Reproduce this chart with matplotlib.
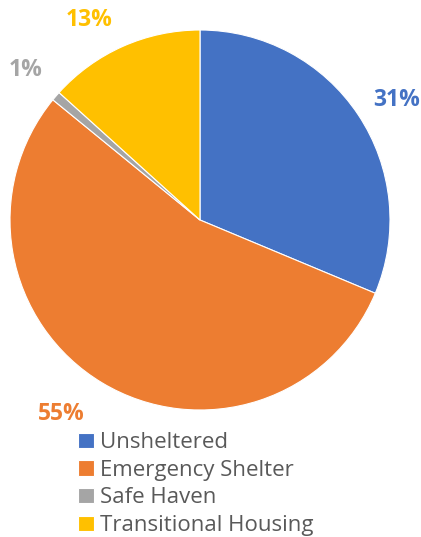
import matplotlib
matplotlib.use("Agg")
import matplotlib.pyplot as plt
from matplotlib import transforms

labels = ["Unsheltered", "Emergency Shelter", "Safe Haven", "Transitional Housing"]
shares = [31.3, 54.6, 0.8, 13.3]
colors = ["#4472C4", "#ED7D31", "#A5A5A5", "#FFC000"]
# small nudges (px) so the labels sit where Excel put them
nudges = [(5, -7), (-20, 3), (0, 0), (-18, -10)]

plt.rcParams['font.family'] = ['Open Sans', 'DejaVu Sans']

W, H = 421, 537
fig = plt.figure(figsize=(W / 100, H / 100), dpi=100)
# pie centre (200, 220) px, radius 190 px
ax = fig.add_axes([10 / W, 1 - 410 / H, 380 / W, 380 / H])

wedges, texts, autotexts = ax.pie(
    shares, colors=colors, startangle=90, counterclock=False,
    autopct=lambda p: f"{p:.0f}%", pctdistance=1.21,
    wedgeprops=dict(edgecolor="white", linewidth=0.8),
    textprops=dict(fontsize=16.5, fontweight="bold"),
)
for t, c, (dx, dy) in zip(autotexts, colors, nudges):
    t.set_color(c)
    t.set_transform(transforms.offset_copy(ax.transData, fig=fig,
                                           x=dx, y=dy, units="dots"))
ax.set_aspect("equal")
ax.set_xlim(-1, 1)
ax.set_ylim(-1, 1)

leg = fig.legend(wedges, labels, loc="upper left",
                 bbox_to_anchor=(67 / W, 1 - 421 / H), frameon=False,
                 fontsize=16, handlelength=0.7, handleheight=0.7,
                 handletextpad=0.3, labelspacing=0.3, borderpad=0)
for t in leg.get_texts():
    t.set_color("#595959")

fig.savefig("out.png", dpi=100)
